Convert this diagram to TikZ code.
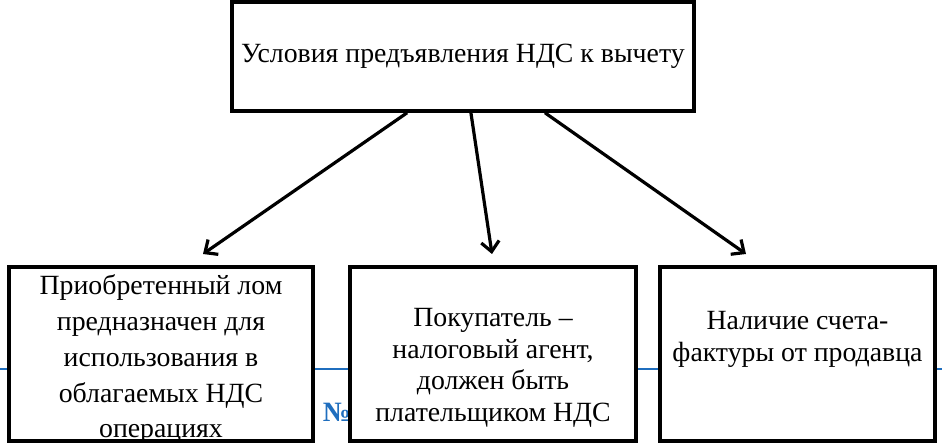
\documentclass[tikz,border=0pt]{standalone}
\usepackage{fontspec}
\setmainfont{LiberationSerif}[Extension=.ttf, UprightFont=*-Regular, BoldFont=*-Bold]
\usetikzlibrary{calc,arrows.meta}
\definecolor{footblue}{RGB}{31,110,190}

\begin{document}
\begin{tikzpicture}[x=1pt,y=-1pt,
    box/.style={draw, line width=3.5pt, fill=white, align=center, inner sep=0pt,
      font=\fontsize{27.8}{31.5}\selectfont},
    arr/.style={-{Straight Barb[length=10pt,width=18pt]}, line width=3.2pt}]
  \useasboundingbox (0,0) rectangle (942,446);
  % footer of the scanned page, behind the boxes
  \draw [footblue, line width=2pt] (0,369) -- (942,369);
  \node [footblue, font=\fontsize{28}{30}\selectfont\bfseries] (num) at (337,412) {№};
  \node [box, minimum width=462pt, minimum height=109pt] (cond) at (463,56.5)
    {Условия предъявления НДС к вычету};
  \node [box, minimum width=304pt, minimum height=174pt, font=\fontsize{27.8}{35.75}\selectfont] (lom) at (161,354)
    {\parbox[c][170pt][t]{300pt}{\centering\vspace*{6pt}Приобретенный лом\\ предназначен для\\ использования в\\ облагаемых НДС\\ операциях}};
  \node [box, minimum width=286pt, minimum height=174pt] (agent) at (493,354)
    {\mbox{}\\[14pt]Покупатель –\\ налоговый агент,\\ должен быть\\ плательщиком НДС};
  \node [box, minimum width=275pt, minimum height=174pt] (invoice) at (797.5,354)
    {Наличие счета-\\ фактуры от продавца\\[4pt]};
  \coordinate (tipL) at (203,254);
  \coordinate (tipM) at (492,254);
  \coordinate (tipR) at (746,254);
  \draw [arr] ($(cond.south west)!.38!(cond.south east)$) -- (tipL);
  \draw [arr] ($(cond.south west)!.517!(cond.south east)$) -- (tipM);
  \draw [arr] ($(cond.south west)!.676!(cond.south east)$) -- (tipR);
\end{tikzpicture}
\end{document}
